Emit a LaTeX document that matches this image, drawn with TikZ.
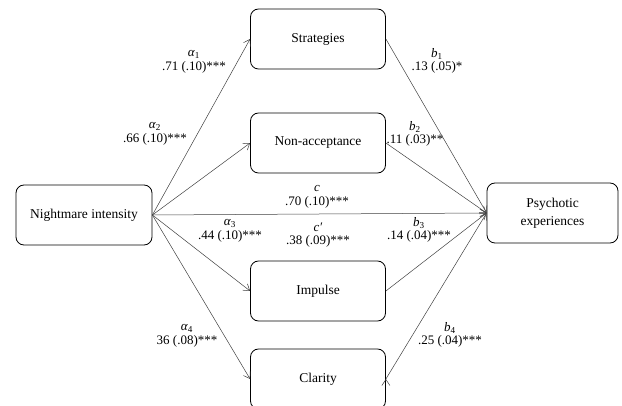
\documentclass[tikz,border=0pt]{standalone}
\usepackage{fontspec}
\setmainfont{Liberation Serif}
\usepackage{tikz}
\usetikzlibrary{arrows.meta}

\begin{document}
\begin{tikzpicture}
		[x=1pt,y=-1pt,line cap=round,
		%Styles
		var box/.style={draw,thick,rounded corners=8pt,minimum width=135pt,minimum height=60pt,align=center,font=\fontsize{13.5}{18}\selectfont},
		path line/.style={draw=black!75,line width=.5pt,-{Straight Barb[length=6pt,width=8pt]}},
		coef text/.style={align=center,inner sep=0pt,font=\fontsize{13}{13.5}\selectfont}
		]
		
		\useasboundingbox (0,0) rectangle (622,406);
		
		%The boxes
		\node[var box,minimum width=136pt] (NI) at (84, 215) {Nightmare intensity};
		\node[var box] (S) at (318, 39) {Strategies};
		\node[var box] (NA) at (318, 143) {Non-acceptance};
		\node[var box] (I) at (318, 291) {Impulse};
		\node[var box] (C) at (318, 379) {Clarity};
		\node[var box,minimum width=131pt] (PE) at (552.5, 213) {Psychotic\\experiences};
		
		%Coefficients
		\node[coef text] (a1) at (194, 62) {\textit{α}\textsubscript{1}\\.71 (.10)***};
		\node[coef text] (a2) at (155, 134) {\textit{α}\textsubscript{2}\\.66 (.10)***};
		\node[coef text] (cc) at (317, 197) {\textit{c}\\.70 (.10)***};
		\node[coef text] (a3) at (230, 231) {\textit{α}\textsubscript{3}\\.44 (.10)***};
		\node[coef text] (cp) at (318, 235) {\textit{c′}\\.38 (.09)***};
		\node[coef text] (a4) at (187, 336) {\textit{α}\textsubscript{4}\\36 (.08)***};
		\node[coef text] (b1) at (437, 61) {\textit{b}\textsubscript{1}\\.13 (.05)*};
		\node[coef text] (b2) at (415, 134) {\textit{b}\textsubscript{2}\\.11 (.03)**};
		\node[coef text] (b3) at (419, 230) {\textit{b}\textsubscript{3}\\.14 (.04)***};
		\node[coef text] (b4) at (450, 335) {\textit{b}\textsubscript{4}\\.25 (.04)***};
		
		\path[path line]
			(NI.east)	edge	(S.west)
				edge	(NA.west)
				edge	(PE.west)
				edge	(I.west)
				edge	(C.west)
			(S.east)	edge	(PE.west)
			(NA.east)	edge	(PE.west)
			(I.east)	edge	(PE.west)
			(C.east)	edge	(PE.west);
	\end{tikzpicture}
\end{document}
